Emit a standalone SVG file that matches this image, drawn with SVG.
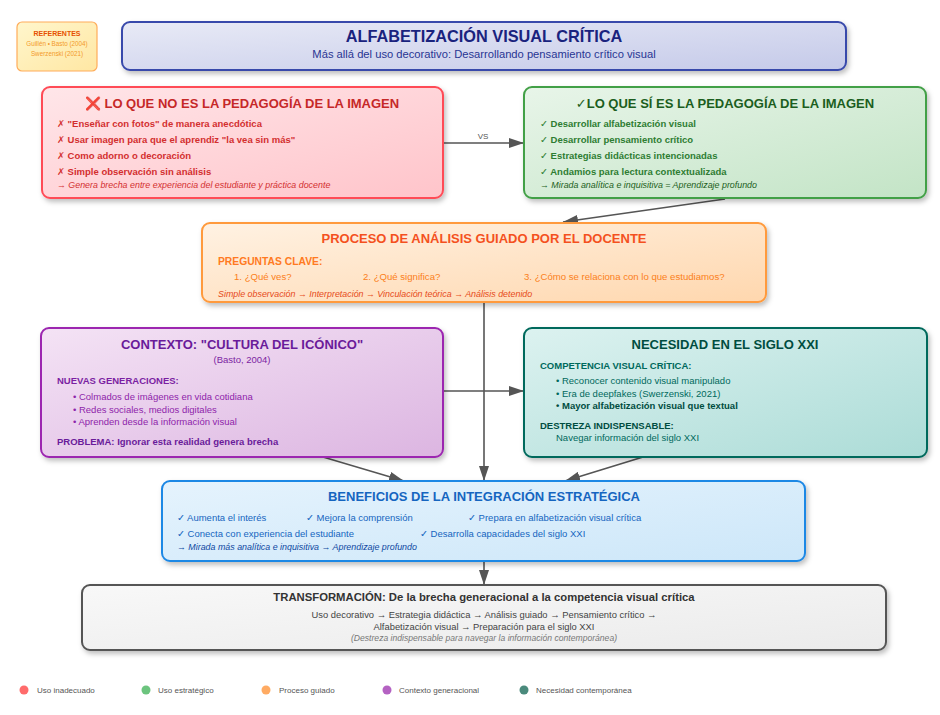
<svg xmlns="http://www.w3.org/2000/svg" width="940" height="715" viewBox="0 0 940 715">
<defs>
<style>
text{font-family:"Liberation Sans",Arial,"DejaVu Sans",sans-serif}
.b{font-weight:bold}
.i{font-style:italic}
.m{text-anchor:middle}
.box{stroke-width:2}
.conn{stroke:#555;stroke-width:1.6;fill:none}
</style>
<filter id="sh" x="-10%" y="-10%" width="120%" height="130%">
<feDropShadow dx="2" dy="3" stdDeviation="2.5" flood-color="#000" flood-opacity="0.25"/>
</filter>
<marker id="ah" markerUnits="userSpaceOnUse" markerWidth="15" markerHeight="10" refX="15" refY="5" orient="auto">
<path d="M0,0 L15,5 L0,10 z" fill="#555"/>
</marker>
<linearGradient id="gT" x1="0" y1="0" x2="1" y2="1"><stop offset="0" stop-color="#e8eaf6"/><stop offset="1" stop-color="#c5cae9"/></linearGradient>
<linearGradient id="gY" x1="0" y1="0" x2="1" y2="1"><stop offset="0" stop-color="#fff6cc"/><stop offset="1" stop-color="#ffe7a3"/></linearGradient>
<linearGradient id="gR" x1="0" y1="0" x2="1" y2="1"><stop offset="0" stop-color="#ffe6e9"/><stop offset="1" stop-color="#ffc4ca"/></linearGradient>
<linearGradient id="gG" x1="0" y1="0" x2="1" y2="1"><stop offset="0" stop-color="#e8f5e9"/><stop offset="1" stop-color="#c3e4c6"/></linearGradient>
<linearGradient id="gO" x1="0" y1="0" x2="1" y2="1"><stop offset="0" stop-color="#fff2e3"/><stop offset="1" stop-color="#ffd7ae"/></linearGradient>
<linearGradient id="gP" x1="0" y1="0" x2="1" y2="1"><stop offset="0" stop-color="#f4e3f5"/><stop offset="1" stop-color="#dcb5e1"/></linearGradient>
<linearGradient id="gC" x1="0" y1="0" x2="1" y2="1"><stop offset="0" stop-color="#dcf2f0"/><stop offset="1" stop-color="#acdcd7"/></linearGradient>
<linearGradient id="gB" x1="0" y1="0" x2="1" y2="1"><stop offset="0" stop-color="#e5f3fd"/><stop offset="1" stop-color="#cde7f9"/></linearGradient>
<linearGradient id="gS" x1="0" y1="0" x2="1" y2="1"><stop offset="0" stop-color="#f8f8f8"/><stop offset="1" stop-color="#ebebeb"/></linearGradient>
</defs>
<rect width="940" height="715" fill="#fff"/>

<g id="connectors">
<line class="conn" x1="443" y1="143" x2="524" y2="143" marker-end="url(#ah)"/>
<text x="483" y="139" class="m" font-size="8" fill="#555">VS</text>
<line class="conn" x1="725" y1="199" x2="563" y2="222" marker-end="url(#ah)"/>
<line class="conn" x1="484" y1="302" x2="484" y2="481" marker-end="url(#ah)"/>
<line class="conn" x1="443" y1="391" x2="524" y2="391" marker-end="url(#ah)"/>
<line class="conn" x1="323" y1="457" x2="404" y2="481" marker-end="url(#ah)"/>
<line class="conn" x1="643" y1="457" x2="565" y2="481" marker-end="url(#ah)"/>
<line class="conn" x1="484" y1="561" x2="484" y2="585" marker-end="url(#ah)"/>
</g>

<g id="referentes">
<rect x="17" y="22" width="80" height="49" rx="5" fill="url(#gY)" stroke="#ffac5a" stroke-width="1.2"/>
<text x="57" y="36" class="m b" font-size="7" fill="#e65100">REFERENTES</text>
<text x="57" y="46.2" class="m" font-size="6.3" fill="#f39a2a">Guillén • Basto (2004)</text>
<text x="57" y="56" class="m" font-size="6.3" fill="#f39a2a">Swerzenski (2021)</text>
</g>

<g id="title">
<rect x="122" y="22" width="724" height="48" rx="8" fill="url(#gT)" stroke="#3949ab" class="box" filter="url(#sh)"/>
<text x="484" y="42" class="m b" font-size="16.3" fill="#1a237e">ALFABETIZACIÓN VISUAL CRÍTICA</text>
<text x="484" y="57.5" class="m" font-size="11.2" fill="#283593">Más allá del uso decorativo: Desarrollando pensamiento crítico visual</text>
</g>

<g id="no-es">
<rect x="42" y="87" width="401" height="111" rx="8" fill="url(#gR)" stroke="#ff4b57" class="box" filter="url(#sh)"/>
<text x="242" y="108" class="m b" font-size="13" fill="#c62828"><tspan fill="#e53935">❌</tspan> LO QUE NO ES LA PEDAGOGÍA DE LA IMAGEN</text>
<g font-size="9.5" fill="#d32f2f">
<text x="57" y="127" class="b">✗ "Enseñar con fotos" de manera anecdótica</text>
<text x="57" y="143" class="b">✗ Usar imagen para que el aprendiz "la vea sin más"</text>
<text x="57" y="159" class="b">✗ Como adorno o decoración</text>
<text x="57" y="175" class="b">✗ Simple observación sin análisis</text>
</g>
<text x="57" y="187.5" class="i" font-size="8.9" fill="#d32f2f">→ Genera brecha entre experiencia del estudiante y práctica docente</text>
</g>

<g id="si-es">
<rect x="524" y="87" width="402" height="111" rx="8" fill="url(#gG)" stroke="#43a047" class="box" filter="url(#sh)"/>
<text x="725" y="108" class="m b" font-size="13" fill="#1b5e20">✓LO QUE SÍ ES LA PEDAGOGÍA DE LA IMAGEN</text>
<g font-size="9.5" fill="#2e7d32">
<text x="540" y="127" class="b">✓ Desarrollar alfabetización visual</text>
<text x="540" y="143" class="b">✓ Desarrollar pensamiento crítico</text>
<text x="540" y="159" class="b">✓ Estrategias didácticas intencionadas</text>
<text x="540" y="175" class="b">✓ Andamios para lectura contextualizada</text>
</g>
<text x="540" y="187.5" class="i" font-size="8.9" fill="#1b5e20">→ Mirada analítica e inquisitiva = Aprendizaje profundo</text>
</g>

<g id="proceso">
<rect x="202" y="223" width="564" height="79" rx="8" fill="url(#gO)" stroke="#ff9a3c" class="box" filter="url(#sh)"/>
<text x="484" y="243" class="m b" font-size="13" fill="#f4511e">PROCESO DE ANÁLISIS GUIADO POR EL DOCENTE</text>
<text x="218" y="264.5" class="b" font-size="10.3" fill="#ff7a22">PREGUNTAS CLAVE:</text>
<g font-size="9.6" fill="#fb8020">
<text x="234" y="280">1. ¿Qué ves?</text>
<text x="363" y="280">2. ¿Qué significa?</text>
<text x="524" y="280">3. ¿Cómo se relaciona con lo que estudiamos?</text>
</g>
<text x="218" y="296.5" class="i" font-size="8.9" fill="#e64a19">Simple observación → Interpretación → Vinculación teórica → Análisis detenido</text>
</g>

<g id="contexto">
<rect x="41" y="328" width="402" height="129" rx="8" fill="url(#gP)" stroke="#9c27b0" class="box" filter="url(#sh)"/>
<text x="242" y="348.5" class="m b" font-size="13" fill="#6a1b9a">CONTEXTO: "CULTURA DEL ICÓNICO"</text>
<text x="242" y="363" class="m" font-size="9.5" fill="#7b1fa2">(Basto, 2004)</text>
<text x="57" y="383.5" class="b" font-size="9.5" fill="#7b1fa2">NUEVAS GENERACIONES:</text>
<g font-size="9.5" fill="#8e24aa">
<text x="73" y="400">• Colmados de imágenes en vida cotidiana</text>
<text x="73" y="412.5">• Redes sociales, medios digitales</text>
<text x="73" y="425">• Aprenden desde la información visual</text>
</g>
<text x="57" y="445" class="b" font-size="9.5" fill="#6a1b9a">PROBLEMA: Ignorar esta realidad genera brecha</text>
</g>

<g id="necesidad">
<rect x="524" y="328" width="403" height="129" rx="8" fill="url(#gC)" stroke="#00695c" class="box" filter="url(#sh)"/>
<text x="725" y="348.5" class="m b" font-size="13" fill="#004d40">NECESIDAD EN EL SIGLO XXI</text>
<text x="540" y="369" class="b" font-size="9.5" fill="#00695c">COMPETENCIA VISUAL CRÍTICA:</text>
<g font-size="9.5" fill="#00695c">
<text x="556" y="384">• Reconocer contenido visual manipulado</text>
<text x="556" y="396.5">• Era de deepfakes (Swerzenski, 2021)</text>
<text x="556" y="409" class="b" fill="#004d40">• Mayor alfabetización visual que textual</text>
</g>
<text x="540" y="428.5" class="b" font-size="9.5" fill="#004d40">DESTREZA INDISPENSABLE:</text>
<text x="556" y="441" font-size="9.5" fill="#00695c">Navegar información del siglo XXI</text>
</g>

<g id="beneficios">
<rect x="162" y="481" width="643" height="80" rx="8" fill="url(#gB)" stroke="#1e88e5" class="box" filter="url(#sh)"/>
<text x="484" y="500.5" class="m b" font-size="13" fill="#1565c0">BENEFICIOS DE LA INTEGRACIÓN ESTRATÉGICA</text>
<g font-size="9.5" fill="#1565c0">
<text x="177" y="520.5">✓ Aumenta el interés</text>
<text x="306" y="520.5">✓ Mejora la comprensión</text>
<text x="468" y="520.5">✓ Prepara en alfabetización visual crítica</text>
<text x="177" y="536.5">✓ Conecta con experiencia del estudiante</text>
<text x="420" y="536.5">✓ Desarrolla capacidades del siglo XXI</text>
</g>
<text x="177" y="549.5" class="i" font-size="8.9" fill="#0d47a1">→ Mirada más analítica e inquisitiva → Aprendizaje profundo</text>
</g>

<g id="transformacion">
<rect x="82" y="585" width="804" height="65" rx="8" fill="url(#gS)" stroke="#555" class="box" filter="url(#sh)"/>
<text x="484" y="601" class="m b" font-size="11.3" fill="#333">TRANSFORMACIÓN: De la brecha generacional a la competencia visual crítica</text>
<text x="484" y="617.5" class="m" font-size="9.4" fill="#444">Uso decorativo → Estrategia didáctica → Análisis guiado → Pensamiento crítico →</text>
<text x="484" y="629.5" class="m" font-size="9.4" fill="#444">Alfabetización visual → Preparación para el siglo XXI</text>
<text x="484" y="641" class="m i" font-size="8.6" fill="#777">(Destreza indispensable para navegar la información contemporánea)</text>
</g>

<g id="legend" font-size="8" fill="#555">
<circle cx="24" cy="690" r="4.5" fill="#ff6b6b"/>
<text x="37" y="693">Uso inadecuado</text>
<circle cx="146" cy="690" r="4.5" fill="#6cc47e"/>
<text x="158" y="693">Uso estratégico</text>
<circle cx="266" cy="690" r="4.5" fill="#ffab63"/>
<text x="279" y="693">Proceso guiado</text>
<circle cx="387" cy="690" r="4.5" fill="#b462c2"/>
<text x="399" y="693">Contexto generacional</text>
<circle cx="524" cy="690" r="4.5" fill="#4a8a7c"/>
<text x="536" y="693">Necesidad contemporánea</text>
</g>
</svg>
